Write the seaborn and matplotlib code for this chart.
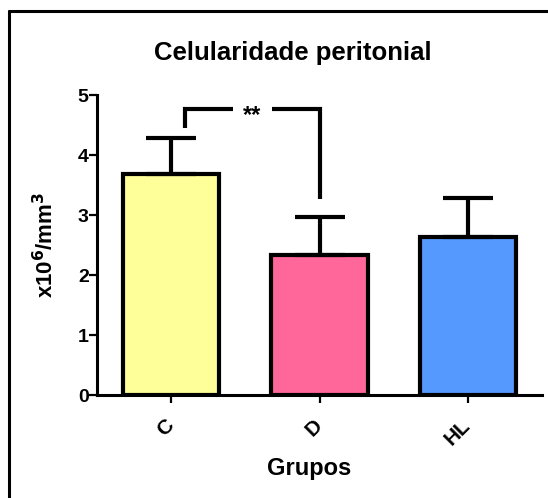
import matplotlib
matplotlib.use("Agg")
import matplotlib.pyplot as plt
from matplotlib.lines import Line2D
import seaborn as sns
import numpy as np

# Peritoneal cell counts per group (x10^6/mm^3), mean and upper error
groups = ["C", "D", "HL"]
means = [3.68, 2.33, 2.63]
errors = [0.60, 0.64, 0.65]
bar_colors = ["#FFFF99", "#FF6699", "#5599FF"]
y_ticks = [0, 1, 2, 3, 4, 5]

# Significance bracket between C and D
sig_pair = (0, 1)
sig_label = "**"
sig_height = 4.76
sig_left_drop = 4.45
sig_right_drop = 3.27

sns.set_style("ticks")
plt.rcParams["font.family"] = ["Liberation Sans", "DejaVu Sans"]
plt.rcParams["font.weight"] = "bold"
plt.rcParams["mathtext.default"] = "bf"
for key in ("text.color", "axes.labelcolor", "xtick.color", "ytick.color",
            "axes.edgecolor"):
    plt.rcParams[key] = "black"

fig = plt.figure(figsize=(5.48, 4.98), dpi=100)
ax = fig.add_axes([97 / 548, 1 - 395 / 498, 445 / 548, 300 / 498])

sns.barplot(x=groups, y=means, hue=groups, palette=bar_colors, legend=False,
            width=0.65, edgecolor="black", linewidth=3, saturation=1, ax=ax)

xpos = np.arange(len(groups))
ax.errorbar(xpos, means, yerr=[np.zeros(len(errors)), errors], fmt="none",
            ecolor="black", elinewidth=3, capsize=18, capthick=3, zorder=3)

# bracket with stars
x1 = sig_pair[0] + 0.095
x2 = sig_pair[1]
xm = (x1 + x2) / 2
gap = 0.13
lw = 3
ax.plot([x1, x1, xm - gap], [sig_left_drop, sig_height, sig_height],
        color="black", lw=lw, solid_capstyle="butt", solid_joinstyle="miter")
ax.plot([xm + gap, x2, x2], [sig_height, sig_height, sig_right_drop],
        color="black", lw=lw, solid_capstyle="butt", solid_joinstyle="miter")
ax.text(xm, sig_height - 0.1, sig_label, ha="center", va="center",
        fontsize=17, fontweight="bold")

ax.set_xlim(-0.5, 2.5)
ax.set_ylim(0, 5)
ax.set_yticks(y_ticks)
ax.set_yticklabels([str(t) for t in y_ticks], fontsize=14, fontweight="bold")
ax.tick_params(axis="y", length=6, width=1.6, pad=0)
ax.tick_params(axis="x", length=6, width=1.6, pad=14)
ax.set_xticks(xpos)
ax.set_xticklabels(groups, fontsize=15, fontweight="bold", rotation=45,
                   ha="right", va="center", rotation_mode="anchor")

for side in ("top", "right"):
    ax.spines[side].set_visible(False)
for side in ("left", "bottom"):
    ax.spines[side].set_linewidth(2.2)
    ax.spines[side].set_capstyle("projecting")

ax.set_xlabel("Grupos", fontsize=17, fontweight="bold", va="top")
ax.xaxis.set_label_coords((309 - 97) / 445, -0.205)
ax.set_ylabel(r"x10$^6$/mm$^3$", fontsize=16, fontweight="bold")
ax.yaxis.set_label_coords(-0.088, 0.5)

fig.text(293 / 548, 1 - 60 / 498, "Celularidade peritonial", ha="center",
         va="baseline", fontsize=18.5, fontweight="bold")

# frame around the figure
fig.add_artist(Line2D([9 / 548, 1.0], [1 - 11 / 498, 1 - 11 / 498],
                      transform=fig.transFigure, color="black", lw=2.2))
fig.add_artist(Line2D([9 / 548, 9 / 548], [0.0, 1 - 11 / 498],
                      transform=fig.transFigure, color="black", lw=2.2))

fig.savefig("out.png", dpi=100)
